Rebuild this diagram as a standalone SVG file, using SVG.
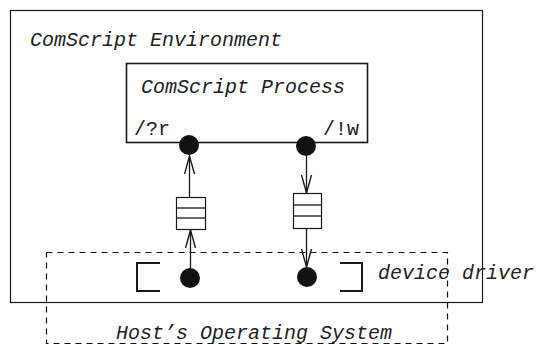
<svg xmlns="http://www.w3.org/2000/svg" width="538" height="345" viewBox="0 0 538 345">
<defs>
<style>
.box{fill:none;stroke:#1a1a1a;stroke-width:1.2}
.dash{fill:none;stroke:#111;stroke-width:1.2;stroke-dasharray:6 5}
.ln{fill:none;stroke:#1a1a1a;stroke-width:1.3}
.br{fill:none;stroke:#1a1a1a;stroke-width:2}
.dot{fill:#111}
.lbl{font-family:"Liberation Mono","Courier New",monospace;font-size:20px;fill:#222}
.it{font-style:italic}
</style>
<marker id="v" viewBox="0 0 20 12" refX="19" refY="6" markerWidth="20" markerHeight="12" markerUnits="userSpaceOnUse" orient="auto">
<path d="M1,1 L19,6 L1,11" fill="none" stroke="#1a1a1a" stroke-width="1.4"/>
</marker>
</defs>
<rect x="0" y="0" width="538" height="345" fill="#fff"/>
<g id="environment">
<rect class="box" x="10.5" y="10.5" width="472" height="292"/>
<text class="lbl it" x="30" y="46">ComScript Environment</text>
</g>
<g id="host-os">
<rect class="dash" x="46.5" y="252.5" width="401" height="91"/>
<text class="lbl it" x="116" y="339">Host’s Operating System</text>
</g>
<g id="process">
<rect class="box" x="126.5" y="63.5" width="241" height="79" style="stroke-width:1.6"/>
<text class="lbl it" x="141" y="93">ComScript Process</text>
<text class="lbl" x="134" y="135">/?r</text>
<text class="lbl" x="323" y="135">/!w</text>
</g>
<g id="port-r"><circle class="dot" cx="189" cy="145" r="10"/></g>
<g id="port-w"><circle class="dot" cx="306" cy="146" r="10"/></g>
<g id="queue-r">
<rect class="box" x="176.5" y="197.5" width="29" height="32"/>
<line class="ln" x1="176" y1="208" x2="205" y2="208"/>
<line class="ln" x1="176" y1="218" x2="205" y2="218"/>
</g>
<g id="queue-w">
<rect class="box" x="293.5" y="193.5" width="28" height="35"/>
<line class="ln" x1="293" y1="205" x2="321" y2="205"/>
<line class="ln" x1="293" y1="216" x2="321" y2="216"/>
</g>
<g id="device-driver">
<path class="br" d="M160,263 H137 V291 H160"/>
<path class="br" d="M340,263 H362 V291 H340"/>
<circle class="dot" cx="190" cy="278" r="10"/>
<circle class="dot" cx="307" cy="277" r="10"/>
<text class="lbl it" x="378" y="279">device driver</text>
</g>
<g id="connectors">
<line class="ln" x1="189.5" y1="197" x2="189.5" y2="156" marker-end="url(#v)"/>
<line class="ln" x1="306.5" y1="156" x2="306.5" y2="193" marker-end="url(#v)"/>
<line class="ln" x1="190.5" y1="268" x2="190.5" y2="230" marker-end="url(#v)"/>
<line class="ln" x1="306.5" y1="229" x2="306.5" y2="267" marker-end="url(#v)"/>
</g>
</svg>
